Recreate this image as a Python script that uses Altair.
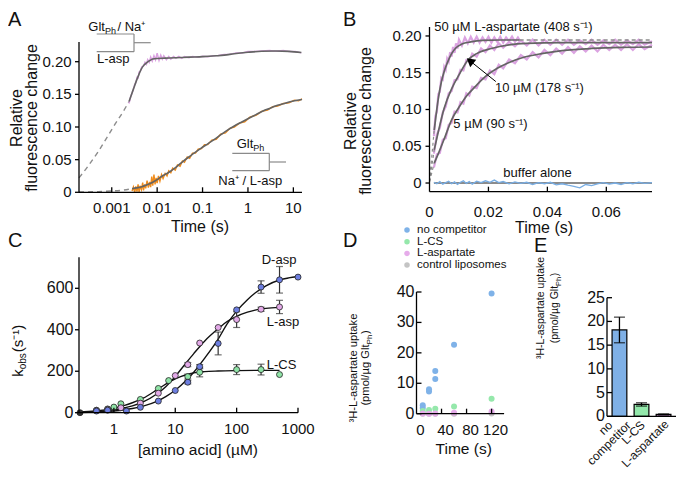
import altair as alt
import pandas as pd

FONT = "Liberation Sans"
INK = "#111111"
FITC = "#646464"
DASHC = "#8c8c8c"
BRK = "#8a8a8a"
PINK = "#dba3e1"
ORANGE = "#f08c1c"

# ================= DATA =================
# ---- Panel A (log time) ----
a_xticks = [0.001, 0.01, 0.1, 1, 10]
a_xlabels = ["0.001", "0.01", "0.1", "1", "10"]
a_yticks = [0, 0.05, 0.10, 0.15, 0.20]
a_ylabels = ["0", "0.05", "0.10", "0.15", "0.20"]
a_pink_t = [0.0024, 0.0026, 0.0028, 0.003, 0.0032, 0.0034, 0.0036, 0.0038, 0.004, 0.0043,
            0.0046, 0.005, 0.0054, 0.0058, 0.0062, 0.0067, 0.0072, 0.0078, 0.0085, 0.0092,
            0.01, 0.011, 0.012, 0.013, 0.014, 0.016, 0.018, 0.02, 0.023, 0.026,
            0.03, 0.035, 0.04, 0.05, 0.06, 0.08, 0.1, 0.13, 0.17, 0.22,
            0.3, 0.4, 0.55, 0.75, 1.0, 1.4, 2, 3, 4, 6, 8, 11, 15]
a_pink_y = [0.136, 0.146, 0.152, 0.158, 0.165, 0.168, 0.176, 0.175, 0.184, 0.186,
            0.192, 0.193, 0.199, 0.196, 0.203, 0.199, 0.207, 0.201, 0.209, 0.203,
            0.213, 0.202, 0.210, 0.204, 0.209, 0.203, 0.208, 0.204, 0.208, 0.205,
            0.208, 0.205, 0.208, 0.206, 0.208, 0.207, 0.2085, 0.2075, 0.209, 0.2095,
            0.211, 0.2115, 0.2135, 0.2135, 0.2155, 0.2155, 0.2165, 0.217, 0.216, 0.217, 0.2155, 0.2155, 0.2135]
a_pinkfit_t = [0.0024, 0.003, 0.0035, 0.004, 0.0045, 0.005, 0.006, 0.007, 0.008, 0.01, 0.015,
               0.025, 0.05, 0.1, 0.2, 0.3, 0.5, 1, 2, 4, 8, 15]
a_pinkfit_y = [0.139, 0.158, 0.171, 0.181, 0.189, 0.194, 0.199, 0.202, 0.204, 0.205, 0.2055,
               0.206, 0.207, 0.2077, 0.209, 0.210, 0.2122, 0.2144, 0.2160, 0.2164, 0.2158, 0.214]
a_pinkdash_t = [0.00019, 0.0003, 0.0005, 0.0008, 0.0012, 0.0018, 0.0024]
a_pinkdash_y = [0.022, 0.040, 0.062, 0.085, 0.105, 0.124, 0.139]
a_orange_t = [0.0028, 0.003, 0.0032, 0.0034, 0.0036, 0.0038, 0.004, 0.0042, 0.0045, 0.0048,
              0.005, 0.0053, 0.0056, 0.006, 0.0064, 0.0068, 0.0072, 0.0076, 0.008, 0.0085,
              0.009, 0.0095, 0.01, 0.0107, 0.0115, 0.0125, 0.0135, 0.015, 0.0165, 0.018,
              0.02, 0.022, 0.025, 0.028, 0.032, 0.036, 0.04, 0.046, 0.052, 0.06,
              0.07, 0.08, 0.095, 0.11, 0.13, 0.16, 0.2, 0.25, 0.32, 0.4,
              0.5, 0.65, 0.85, 1.1, 1.5, 2, 2.7, 3.5, 4.5, 6,
              8, 10.5, 13, 15.5]
a_orange_y = [0.002, 0.008, 0.0, 0.009, 0.001, 0.012, 0.0005, 0.010, 0.004, 0.015,
              0.003, 0.012, 0.006, 0.018, 0.007, 0.016, 0.008, 0.024, 0.010, 0.027,
              0.012, 0.022, 0.014, 0.025, 0.017, 0.027, 0.021, 0.029, 0.025, 0.033,
              0.030, 0.037, 0.034, 0.042, 0.040, 0.048, 0.046, 0.054, 0.052, 0.060,
              0.060, 0.066, 0.067, 0.073, 0.073, 0.080, 0.081, 0.089, 0.091, 0.098,
              0.100, 0.106, 0.108, 0.115, 0.118, 0.124, 0.126, 0.131, 0.132, 0.136,
              0.137, 0.141, 0.140, 0.143]
a_orangefit_t = [0.0028, 0.0035, 0.0046, 0.006, 0.008, 0.0098, 0.013, 0.0175, 0.0245, 0.035, 0.057,
                 0.09, 0.135, 0.2, 0.316, 0.5, 0.7, 1.02, 1.5, 2.2, 3, 4, 6, 9, 15.5]
a_orangefit_y = [0.0055, 0.0068, 0.0086, 0.0115, 0.0155, 0.019, 0.025, 0.030, 0.037, 0.046, 0.057,
                 0.067, 0.075, 0.083, 0.093, 0.1015, 0.107, 0.113, 0.119, 0.125, 0.1285, 0.132, 0.1355, 0.139, 0.142]
a_orangedash_t = [0.00019, 0.0005, 0.001, 0.0018, 0.0028]
a_orangedash_y = [0.0005, 0.001, 0.002, 0.0033, 0.0055]

# ---- Panel B (linear time) ----
b_xticks = [0, 0.02, 0.04, 0.06]
b_xlabels = ["0", "0.02", "0.04", "0.06"]
b_yticks = [0, 0.05, 0.10, 0.15, 0.20]
b_ylabels = ["0", "0.05", "0.10", "0.15", "0.20"]
b_tgrid = [0.0015, 0.0025, 0.0035, 0.0045, 0.0055, 0.0065, 0.0075, 0.0085, 0.0095, 0.0105,
           0.0115, 0.0125, 0.0135, 0.0145, 0.016, 0.0175, 0.019, 0.0205, 0.022, 0.0235,
           0.025, 0.027, 0.029, 0.031, 0.033, 0.035, 0.037, 0.039, 0.041, 0.043,
           0.045, 0.047, 0.049, 0.051, 0.053, 0.055, 0.057, 0.059, 0.061, 0.063,
           0.065, 0.067, 0.069, 0.071, 0.073, 0.0755]
b_y10 = [0.040, 0.066, 0.075, 0.096, 0.104, 0.122, 0.125, 0.140, 0.141, 0.154,
         0.153, 0.167, 0.165, 0.176, 0.172, 0.183, 0.178, 0.187, 0.181, 0.190,
         0.184, 0.192, 0.186, 0.194, 0.187, 0.195, 0.187, 0.195, 0.188, 0.195,
         0.188, 0.195, 0.188, 0.194, 0.189, 0.195, 0.188, 0.194, 0.189, 0.195,
         0.188, 0.194, 0.189, 0.195, 0.188, 0.193]
b_y5 = [0.021, 0.039, 0.041, 0.059, 0.061, 0.079, 0.082, 0.097, 0.096, 0.110,
        0.108, 0.122, 0.119, 0.131, 0.129, 0.143, 0.141, 0.153, 0.148, 0.161,
        0.156, 0.168, 0.163, 0.174, 0.168, 0.178, 0.171, 0.181, 0.174, 0.183,
        0.176, 0.185, 0.177, 0.186, 0.179, 0.187, 0.179, 0.188, 0.181, 0.188,
        0.181, 0.189, 0.181, 0.189, 0.182, 0.188]
b_buf_y = [0.001, -0.001, 0.002, -0.0015, 0.0005, 0.0025, -0.001, 0.0015, -0.002, 0.001,
           0.003, -0.0005, 0.002, -0.0015, 0.0025, 0.0005, 0.003, 0.001, 0.004, 0.0005,
           0.002, -0.001, 0.0015, -0.0005, 0.001, -0.002, 0.0005, -0.001, 0.001, -0.0025,
           -0.001, -0.003, -0.0045, -0.0065, -0.002, -0.0035, -0.001, 0.0005, -0.0015, 0.0,
           -0.002, 0.0005, -0.001, 0.001, -0.0005, 0.0005]
b_t50 = [0.0015, 0.002, 0.0025, 0.003, 0.0035, 0.004, 0.0045, 0.005, 0.0055, 0.006,
         0.0065, 0.007, 0.0075, 0.008, 0.0085, 0.009, 0.0095, 0.010, 0.011, 0.012,
         0.013, 0.014, 0.015, 0.016, 0.017, 0.018, 0.019, 0.020, 0.021, 0.022,
         0.023, 0.024, 0.025, 0.026, 0.027, 0.028, 0.029, 0.030, 0.0306]
b_y50 = [0.064, 0.091, 0.097, 0.121, 0.124, 0.143, 0.141, 0.158, 0.154, 0.169,
         0.165, 0.178, 0.172, 0.185, 0.177, 0.190, 0.183, 0.195, 0.187, 0.198,
         0.190, 0.199, 0.191, 0.199, 0.191, 0.198, 0.192, 0.199, 0.191, 0.198,
         0.192, 0.199, 0.191, 0.198, 0.193, 0.199, 0.192, 0.198, 0.194]
b_fit50_t = [0.0016, 0.002, 0.003, 0.004, 0.005, 0.006, 0.0075, 0.009, 0.011, 0.014, 0.018, 0.024, 0.0306]
b_fit50_y = [0.072, 0.085, 0.115, 0.137, 0.152, 0.163, 0.176, 0.184, 0.189, 0.192, 0.194, 0.1945, 0.1945]
b_fit10_t = [0.0016, 0.003, 0.005, 0.0075, 0.01, 0.013, 0.016, 0.021, 0.027, 0.033, 0.045, 0.06, 0.0755]
b_fit10_y = [0.045, 0.07, 0.102, 0.128, 0.147, 0.167, 0.176, 0.183, 0.188, 0.190, 0.191, 0.191, 0.191]
b_fit5_t = [0.0016, 0.003, 0.005, 0.0075, 0.01, 0.0125, 0.0155, 0.019, 0.023, 0.027, 0.032, 0.038,
            0.045, 0.055, 0.065, 0.0755]
b_fit5_y = [0.027, 0.04, 0.06, 0.086, 0.103, 0.118, 0.131, 0.145, 0.156, 0.164, 0.171, 0.176,
            0.180, 0.183, 0.1845, 0.185]
b_lead_t = [0, 0.0016]
b_lead50_y = [0.002, 0.072]
b_lead10_y = [0.002, 0.045]
b_lead5_y = [0.002, 0.027]
b_tail50_t = [0.0306, 0.0755]
b_tail50_y = [0.1945, 0.1945]
b_buffit_t = [0.0015, 0.0755]
b_buffit_y = [0.0, 0.0]
b_arrow_t = [0.0225, 0.0141]
b_arrow_y = [0.138, 0.1650]

# ---- Panel C (kobs vs concentration) ----
c_xticks = [1, 10, 100, 1000]
c_xlabels = ["1", "10", "100", "1000"]
c_yticks = [0, 200, 400, 600]
c_ylabels = ["0", "200", "400", "600"]
c_dasp_x = [0.52, 0.79, 1.6, 2.7, 5.3, 10, 16, 25, 50, 100, 250, 500, 1000]
c_dasp_k = [8, 12, 8, 26, 56, 107, 147, 222, 334, 496, 606, 641, 654]
c_dasp_e = [0, 0, 0, 0, 0, 0, 8, 10, 55, 0, 30, 64, 0]
c_lasp_x = [0.52, 0.79, 1.3, 2.7, 5.3, 10, 16, 25, 50, 100, 250, 500]
c_lasp_k = [11, 16, 24, 46, 94, 179, 232, 336, 411, 449, 499, 510]
c_lasp_e = [0, 0, 0, 0, 0, 0, 10, 0, 0, 38, 10, 32]
c_lcs_x = [0.52, 0.79, 1.0, 1.3, 2.7, 5.3, 7.8, 16, 25, 100, 250, 500]
c_lcs_k = [12, 18, 27, 43, 64, 117, 155, 174, 195, 208, 208, 184]
c_lcs_e = [0, 0, 0, 0, 0, 0, 0, 12, 22, 24, 26, 0]
c_zero_x = [0.28]
c_zero_k = [0]
c_dcurve_x = [0.27, 0.5, 1, 1.5, 2, 3, 5, 7, 10, 15, 20, 30, 50, 70, 100, 150, 200, 300, 500, 700, 1000]
c_dcurve_k = [1, 3, 8, 14, 20, 32, 55, 78, 108, 155, 195, 262, 355, 428, 490, 545, 577, 612, 640, 650, 657]
c_lcurve_x = [0.27, 0.5, 1, 1.5, 2, 3, 5, 7, 10, 15, 20, 30, 50, 70, 100, 150, 200, 300, 500]
c_lcurve_k = [2, 5, 14, 24, 33, 52, 90, 125, 175, 240, 285, 345, 405, 440, 465, 485, 495, 503, 508]
c_scurve_x = [0.27, 0.5, 1, 1.5, 2, 3, 5, 7, 10, 15, 20, 30, 50, 100, 200, 500]
c_scurve_k = [3, 8, 22, 35, 48, 70, 110, 138, 163, 183, 192, 198, 201, 203, 204, 204]

# ---- Panel D (uptake time course) ----
d_xticks = [0, 40, 80, 120]
d_xlabels = ["0", "40", "80", "120"]
d_yticks = [0, 10, 20, 30, 40]
d_ylabels = ["0", "10", "20", "30", "40"]
d_grey_t = [10, 20, 30, 60, 120]
d_grey_y = [0.0, 0.0, 0.0, 0.0, 0.1]
d_blue_t = [10, 10, 20, 20, 30, 30, 60, 120]
d_blue_y = [2.8, 1.9, 8.0, 7.3, 14.0, 11.4, 22.7, 39.5]
d_green_t = [10, 20, 30, 60, 120]
d_green_y = [0.9, 1.2, 1.6, 2.4, 4.9]
d_pink_t = [10, 20, 30, 60, 120]
d_pink_y = [0.05, 0.0, 0.1, 0.3, 0.7]
d_legend = ["no competitor", "L-CS", "L-aspartate", "control liposomes"]

# ---- Panel E (bar chart) ----
e_yticks = [0, 5, 10, 15, 20, 25]
e_ylabels = ["0", "5", "10", "15", "20", "25"]
e_cat = ["no competitor", "L-CS", "L-aspartate"]
e_val = [18.2, 2.5, 0.4]
e_err = [2.7, 0.35, 0.1]

# ================= PANEL GEOMETRY (pixels inside the chart) =================
W, H = 669, 466
A_XS = alt.Scale(type="log", domain=[0.00019, 15.5], range=[71, 294], nice=False)
A_YS = alt.Scale(domain=[0, 0.25], range=[184.3, 21.05], nice=False, zero=False)
B_XS = alt.Scale(domain=[0, 0.0755], range=[421.5, 644], nice=False, zero=False)
B_YS = alt.Scale(domain=[-0.0118, 0.2122], range=[183.7, 19], nice=False, zero=False)
C_XS = alt.Scale(type="log", domain=[0.27, 1000], range=[71, 290], nice=False)
C_YS = alt.Scale(domain=[0, 750], range=[404.7, 249.2], nice=False, zero=False)
D_XS = alt.Scale(domain=[0, 140], range=[408.5, 496.1], nice=False, zero=False)
D_YS = alt.Scale(domain=[0, 40], range=[405.7, 284], nice=False, zero=False)
E_XS = alt.Scale(domain=e_cat, range=[599, 668], paddingInner=0.33, paddingOuter=0.23)
E_YS = alt.Scale(domain=[0, 25], range=[408.3, 289.7], nice=False, zero=False)

# ================= HELPERS =================
AWID = {' ': 278, '(': 333, ')': 333, '/': 278, '-': 333, '.': 278, '+': 584,
        'A': 667, 'B': 667, 'C': 722, 'D': 722, 'E': 667, 'G': 778, 'H': 722, 'L': 556,
        'M': 833, 'N': 722, 'P': 667, 'S': 667, 'T': 611,
        'a': 556, 'b': 556, 'c': 500, 'd': 556, 'e': 556, 'f': 278, 'g': 556, 'h': 556,
        'i': 222, 'k': 500, 'l': 222, 'm': 833, 'n': 556, 'o': 556, 'p': 556, 'r': 333,
        's': 500, 't': 278, 'u': 556, 'v': 500, 'µ': 576, '³': 333, '¹': 333,
        '⁺': 420, '⁻': 420}


def tw(s, size):
    return sum(AWID.get(c, 556) for c in s) * size / 1000.0


ONE = pd.DataFrame({"k": [0]})


def txt(s, x, y, size=13, align="left", angle=None, baseline="alphabetic", color=INK):
    kw = dict(text=s, font=FONT, fontSize=size, align=align, baseline=baseline, color=color)
    if angle is not None:
        kw["angle"] = angle
    return alt.Chart(ONE).mark_text(**kw).encode(x=alt.value(x), y=alt.value(y))


def rich_h(parts, x, y):
    # parts: (text, size, baseline shift, extra gap after)
    out, cx = [], x
    for s, size, dy, gap in parts:
        out.append(txt(s, cx, y + dy, size))
        cx += tw(s, size) + gap
    return out


def rich_v(parts, xb, yc):
    total = sum(tw(s, z) + g for s, z, _, g in parts)
    cy = yc + total / 2.0
    out = []
    for s, size, dx, gap in parts:
        out.append(txt(s, xb + dx, cy, size, angle=270))
        cy -= tw(s, size) + gap
    return out


def seg(x1, y1, x2, y2, color="black", w=1.3):
    return alt.Chart(ONE).mark_rule(color=color, strokeWidth=w).encode(
        x=alt.value(x1), y=alt.value(y1), x2=alt.value(x2), y2=alt.value(y2))


def XQ(f, s):
    return alt.X(f, scale=s, axis=None, title=None)


def YQ(f, s):
    return alt.Y(f, scale=s, axis=None, title=None)


def line(t, y, xs, ys, color, width=1.2, dash=None, interp="linear", opacity=1.0):
    df = pd.DataFrame({"t": t, "y": y})
    kw = dict(color=color, strokeWidth=width, opacity=opacity, interpolate=interp)
    if dash:
        kw["strokeDash"] = dash
    return alt.Chart(df).mark_line(**kw).encode(x=XQ("t:Q", xs), y=YQ("y:Q", ys))


def xlabels(vals, labs, xs, yb, size=15, dx=0):
    df = pd.DataFrame({"v": vals, "lab": labs})
    return alt.Chart(df).mark_text(font=FONT, fontSize=size, align="center", baseline="alphabetic",
                                   color=INK, dx=dx).encode(x=XQ("v:Q", xs), y=alt.value(yb), text="lab:N")


def ylabels(vals, labs, ys, xr, size=15):
    df = pd.DataFrame({"v": vals, "lab": labs})
    return alt.Chart(df).mark_text(font=FONT, fontSize=size, align="right", baseline="middle",
                                   color=INK).encode(y=YQ("v:Q", ys), x=alt.value(xr), text="lab:N")


def xticks_up(vals, xs, y0, L=5):
    return alt.Chart(pd.DataFrame({"v": vals})).mark_rule(color="black", strokeWidth=1.3).encode(
        x=XQ("v:Q", xs), y=alt.value(y0), y2=alt.value(y0 - L))


def yticks_out(vals, ys, x0, L=4):
    return alt.Chart(pd.DataFrame({"v": vals})).mark_rule(color="black", strokeWidth=1.3).encode(
        y=YQ("v:Q", ys), x=alt.value(x0 - L), x2=alt.value(x0))


def yticks_in(vals, ys, x0, L=5):
    return alt.Chart(pd.DataFrame({"v": vals})).mark_rule(color="black", strokeWidth=1.3).encode(
        y=YQ("v:Q", ys), x=alt.value(x0), x2=alt.value(x0 + L))


def pts(t, y, xs, ys, fill, size=36, stroke=None, sw=0.8):
    kw = dict(fill=fill, size=size, opacity=1, fillOpacity=1)
    if stroke:
        kw.update(stroke=stroke, strokeWidth=sw)
    else:
        kw.update(strokeWidth=0)
    return alt.Chart(pd.DataFrame({"t": t, "y": y})).mark_circle(**kw).encode(
        x=XQ("t:Q", xs), y=YQ("y:Q", ys))


def errbars(x, v, e, xs, ys, cap=7, color="#333333"):
    rows = [(a, b - c, b + c) for a, b, c in zip(x, v, e) if c > 0]
    df = pd.DataFrame(rows, columns=["t", "lo", "hi"])
    base = alt.Chart(df)
    return [
        base.mark_rule(color=color, strokeWidth=1.2).encode(x=XQ("t:Q", xs), y=YQ("lo:Q", ys), y2="hi:Q"),
        base.mark_tick(orient="horizontal", size=cap, thickness=1.2, color=color).encode(
            x=XQ("t:Q", xs), y=YQ("hi:Q", ys)),
        base.mark_tick(orient="horizontal", size=cap, thickness=1.2, color=color).encode(
            x=XQ("t:Q", xs), y=YQ("lo:Q", ys)),
    ]


layers = []

# ================= PANEL A =================
layers += [
    line(a_pinkdash_t, a_pinkdash_y, A_XS, A_YS, DASHC, 1.4, dash=[5, 4], interp="monotone"),
    line(a_orangedash_t, a_orangedash_y, A_XS, A_YS, DASHC, 1.4, dash=[5, 4], interp="monotone"),
    line(a_orange_t, a_orange_y, A_XS, A_YS, ORANGE, 1.4),
    line(a_pink_t, a_pink_y, A_XS, A_YS, PINK, 1.5),
    line(a_pinkfit_t, a_pinkfit_y, A_XS, A_YS, FITC, 1.6, interp="monotone"),
    line(a_orangefit_t, a_orangefit_y, A_XS, A_YS, FITC, 1.6, interp="monotone"),
    seg(71, 184.3, 294, 184.3), seg(71, 184.3, 71, 34),
    xticks_up(a_xticks, A_XS, 184.3),
    yticks_out(a_yticks, A_YS, 71),
    xlabels(a_xticks, a_xlabels, A_XS, 205),
    ylabels(a_yticks, a_ylabels, A_YS, 63.7),
    seg(88.7, 26, 126, 26, BRK, 1.2), seg(126, 26, 126, 43.7, BRK, 1.2),
    seg(88.7, 43.7, 126, 43.7, BRK, 1.2), seg(126, 34.7, 142.7, 34.7, BRK, 1.2),
    *rich_h([("Glt", 13, 0, 0), ("Ph", 9, 3, 1.5), (" / Na⁺", 13, 0, 0)], 80.3, 22.7),
    txt("L-asp", 89, 55.3, 13),
    seg(224.3, 145.3, 261.3, 145.3, BRK, 1.2), seg(261.3, 145.3, 261.3, 162.7, BRK, 1.2),
    seg(224.3, 162.7, 261.3, 162.7, BRK, 1.2), seg(261.3, 154, 278, 154, BRK, 1.2),
    *rich_h([("Glt", 13, 0, 0), ("Ph", 9, 3, 0)], 228.7, 140.3),
    txt("Na⁺ / L-asp", 210.3, 177, 13),
    txt("A", 0, 18, 20),
    txt("Relative", 14, 110, 16, align="center", angle=270),
    txt("fluorescence change", 28.5, 110, 16, align="center", angle=270),
    txt("Time (s)", 192, 224, 16, align="center"),
]

# ================= PANEL B =================
layers += [
    line(b_buffit_t, b_buffit_y, B_XS, B_YS, FITC, 1.4),
    line(b_tgrid, b_buf_y, B_XS, B_YS, "#78ade3", 1.3),
    line(b_tgrid, b_y5, B_XS, B_YS, PINK, 2.2),
    line(b_tgrid, b_y10, B_XS, B_YS, PINK, 2.2),
    line(b_t50, b_y50, B_XS, B_YS, PINK, 2.2),
    line(b_fit5_t, b_fit5_y, B_XS, B_YS, FITC, 1.7, interp="monotone"),
    line(b_fit10_t, b_fit10_y, B_XS, B_YS, FITC, 1.7, interp="monotone"),
    line(b_fit50_t, b_fit50_y, B_XS, B_YS, FITC, 1.7, interp="monotone"),
    line(b_lead_t, b_lead50_y, B_XS, B_YS, DASHC, 1.2, dash=[3, 3]),
    line(b_lead_t, b_lead10_y, B_XS, B_YS, DASHC, 1.2, dash=[3, 3]),
    line(b_lead_t, b_lead5_y, B_XS, B_YS, DASHC, 1.2, dash=[3, 3]),
    line(b_tail50_t, b_tail50_y, B_XS, B_YS, DASHC, 1.3, dash=[4, 3]),
    seg(421.5, 183.7, 644, 183.7), seg(421.5, 183.7, 421.5, 19),
    xticks_up(b_xticks[1:], B_XS, 183.7),
    yticks_out(b_yticks, B_YS, 421.5),
    xlabels(b_xticks, b_xlabels, B_XS, 208.5),
    ylabels(b_yticks, b_ylabels, B_YS, 413.7),
    line(b_arrow_t, b_arrow_y, B_XS, B_YS, "black", 1.0),
    alt.Chart(pd.DataFrame({"t": [b_arrow_t[1]], "y": [b_arrow_y[1]]})).mark_point(
        shape="triangle", filled=True, fill="black", stroke="black", size=38, angle=309, opacity=1).encode(
        x=XQ("t:Q", B_XS), y=YQ("y:Q", B_YS)),
    txt("50 µM L-aspartate (408 s⁻¹)", 426.3, 22.5, 13),
    txt("10 µM (178 s⁻¹)", 487, 83.7, 13),
    txt("5 µM (90 s⁻¹)", 445.3, 120.3, 13),
    txt("buffer alone", 495.3, 168.5, 13),
    txt("B", 335, 18, 20),
    txt("Relative", 347.5, 113, 16, align="center", angle=270),
    txt("fluorescence change", 363, 113, 16, align="center", angle=270),
    txt("Time (s)", 536, 224.7, 16, align="center"),
]

# ================= PANEL C =================
layers += [
    line(c_scurve_x, c_scurve_k, C_XS, C_YS, "#111111", 1.4, interp="monotone"),
    line(c_lcurve_x, c_lcurve_k, C_XS, C_YS, "#111111", 1.4, interp="monotone"),
    line(c_dcurve_x, c_dcurve_k, C_XS, C_YS, "#111111", 1.4, interp="monotone"),
    *errbars(c_lcs_x, c_lcs_k, c_lcs_e, C_XS, C_YS),
    *errbars(c_lasp_x, c_lasp_k, c_lasp_e, C_XS, C_YS),
    *errbars(c_dasp_x, c_dasp_k, c_dasp_e, C_XS, C_YS),
    pts(c_zero_x, c_zero_k, C_XS, C_YS, "#333333", 36, "#222222"),
    pts(c_lcs_x, c_lcs_k, C_XS, C_YS, "#8fe3a6", 36, "#222222"),
    pts(c_lasp_x, c_lasp_k, C_XS, C_YS, "#e3a9e8", 36, "#222222"),
    pts(c_dasp_x, c_dasp_k, C_XS, C_YS, "#6d7ee0", 36, "#222222"),
    seg(71, 404.7, 290, 404.7), seg(71, 404.7, 71, 249.2),
    xticks_up(c_xticks, C_XS, 404.7),
    yticks_out(c_yticks, C_YS, 71),
    xlabels(c_xticks, c_xlabels, C_XS, 425.7),
    ylabels(c_yticks, c_ylabels, C_YS, 65.5, 16),
    txt("D-asp", 253.7, 255.6, 13),
    txt("L-asp", 258.7, 317.6, 13),
    txt("L-CS", 258.7, 361, 13),
    txt("C", 0, 239, 20),
    *rich_v([("k", 15, 0, 0), ("obs", 10, 3, 1), (" (s⁻¹)", 15, 0, 0)], 14.5, 340),
    txt("[amino acid] (µM)", 190, 446.7, 15.5, align="center"),
]

# ================= PANEL D =================
D_COL = ["#7fb2e8", "#95e8ab", "#e6acea", "#c4c4c4"]
layers += [
    pts(d_grey_t, d_grey_y, D_XS, D_YS, D_COL[3]),
    pts(d_blue_t, d_blue_y, D_XS, D_YS, D_COL[0]),
    pts(d_green_t, d_green_y, D_XS, D_YS, D_COL[1]),
    pts(d_pink_t, d_pink_y, D_XS, D_YS, D_COL[2]),
    seg(408.5, 405.7, 496.1, 405.7), seg(408.5, 405.7, 408.5, 284),
    xticks_up(d_xticks[1:], D_XS, 405.7),
    yticks_in(d_yticks, D_YS, 408.5),
    xlabels(d_xticks, d_xlabels, D_XS, 427, 15, dx=4),
    ylabels(d_yticks, d_ylabels, D_YS, 406.5, 16),
]
for i, (lab, yy) in enumerate(zip(d_legend, [222, 233.7, 245.4, 257.1])):
    layers.append(alt.Chart(ONE).mark_circle(size=30, opacity=1, fill=D_COL[i], strokeWidth=0).encode(
        x=alt.value(399), y=alt.value(yy)))
    layers.append(txt(lab, 409, yy, 11.5, baseline="middle"))
layers += [
    txt("D", 335, 239, 20),
    *rich_v([("³H-L-aspartate uptake", 11.2, 0, 0)], 349, 360),
    *rich_v([("(pmol/µg Glt", 11.2, 0, 0), ("Ph", 8, 2.5, 0.5), (")", 11.2, 0, 0)], 361, 360),
    txt("Time (s)", 455.7, 445.7, 15.5, align="center"),
]

# ================= PANEL E =================
e_df = pd.DataFrame({"cat": e_cat, "val": e_val, "err": e_err, "zero": [0, 0, 0]})
e_df["lo"] = e_df["val"] - e_df["err"]
e_df["hi"] = e_df["val"] + e_df["err"]
E_FILL = alt.Scale(domain=e_cat, range=["#7fb0e6", "#93e8ab", "#d9a0e0"])
e_base = alt.Chart(e_df)


def e_text(cat, s, dx, dy):
    return alt.Chart(pd.DataFrame({"cat": [cat], "lab": [s]})).mark_text(
        angle=315, align="right", baseline="middle", font=FONT, fontSize=12, color=INK, dx=dx, dy=dy).encode(
        x=alt.X("cat:N", scale=E_XS, axis=None, title=None), y=alt.value(416.3), text="lab:N")


layers += [
    e_base.mark_bar(stroke="black", strokeWidth=1.2).encode(
        x=alt.X("cat:N", scale=E_XS, axis=None, title=None), y=YQ("val:Q", E_YS), y2="zero:Q",
        fill=alt.Fill("cat:N", scale=E_FILL, legend=None)),
    e_base.mark_rule(color="black", strokeWidth=1.3).encode(
        x=alt.X("cat:N", scale=E_XS, axis=None, title=None), y=YQ("lo:Q", E_YS), y2="hi:Q"),
    e_base.mark_tick(orient="horizontal", size=11, thickness=1.3, color="black").encode(
        x=alt.X("cat:N", scale=E_XS, axis=None, title=None), y=YQ("hi:Q", E_YS)),
    e_base.mark_tick(orient="horizontal", size=11, thickness=1.3, color="black").encode(
        x=alt.X("cat:N", scale=E_XS, axis=None, title=None), y=YQ("lo:Q", E_YS)),
    e_text(e_cat[0], "no", -5, -6.5),
    e_text(e_cat[0], "competitor", 8, 6.5),
    e_text(e_cat[1], "L-CS", 2, 0),
    e_text(e_cat[2], "L-aspartate", 3, 0),
    seg(599, 408.3, 668, 408.3), seg(599, 408.3, 599, 289.7),
    yticks_in(e_yticks, E_YS, 599),
    ylabels(e_yticks, e_ylabels, E_YS, 597, 16),
    txt("E", 526, 244, 20),
    *rich_v([("³H-L-aspartate uptake", 10.5, 0, 0)], 536.3, 300),
    *rich_v([("(pmol/µg Glt", 10.5, 0, 0), ("Ph", 7.5, 2.5, 0.5), (")", 10.5, 0, 0)], 550.3, 300),
]

chart = alt.layer(*layers).resolve_scale(
    x="independent", y="independent", fill="independent"
).properties(
    width=W, height=H, padding=0, autosize="none"
).configure_view(stroke=None)

chart.save("out.html", embed_options={"renderer": "svg", "actions": False})
